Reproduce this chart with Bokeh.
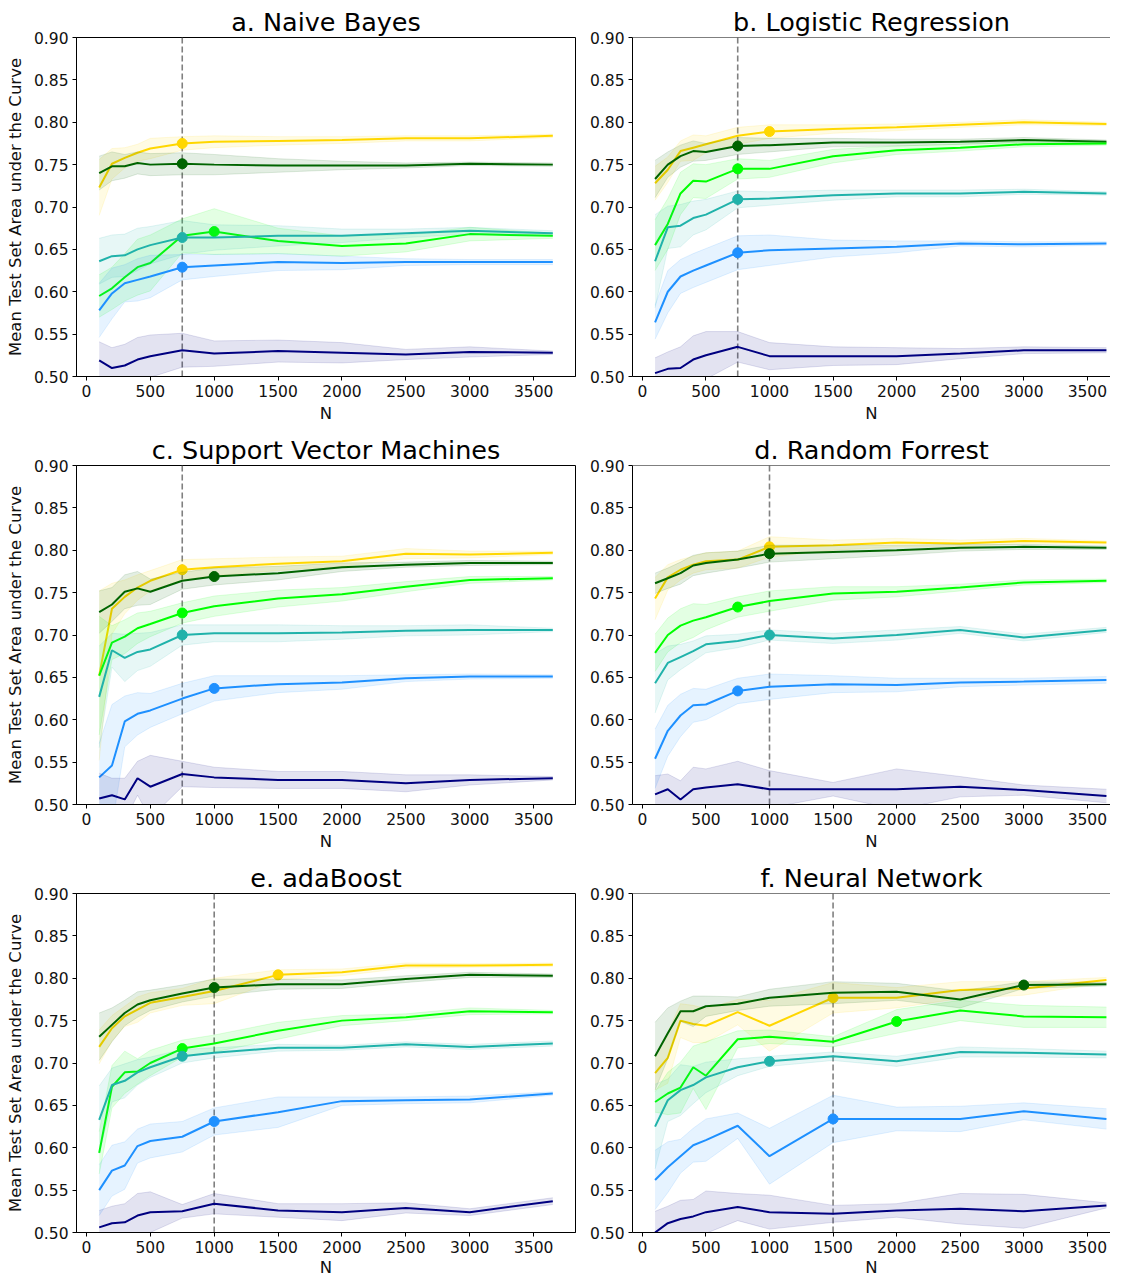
from bokeh.plotting import figure
from bokeh.layouts import column, row
from bokeh.models import Span, FixedTicker, PrintfTickFormatter
from bokeh.embed import file_html
from bokeh.resources import INLINE

# ---------------- data ----------------
N = [100, 200, 300, 400, 500, 750, 1000, 1500, 2000, 2500, 3000, 3650]
X_TICKS = [0, 500, 1000, 1500, 2000, 2500, 3000, 3500]
Y_TICKS = [0.50, 0.55, 0.60, 0.65, 0.70, 0.75, 0.80, 0.85, 0.90]

SERIES = ["gold", "dgreen", "lime", "teal", "blue", "navy"]
COLORS = ["gold", "darkgreen", "lime", "lightseagreen", "dodgerblue", "navy"]

TITLES = ["a. Naive Bayes", "b. Logistic Regression", "c. Support Vector Machines",
          "d. Random Forrest", "e. adaBoost", "f. Neural Network"]
VLINES = [750, 750, 750, 1000, 1000, 1500]

# a. Naive Bayes
a_gold = [0.723, 0.751, 0.758, 0.764, 0.769, 0.775, 0.777, 0.778, 0.779, 0.781, 0.781, 0.784]
a_gold_sd = [0.033, 0.018, 0.012, 0.010, 0.012, 0.008, 0.007, 0.005, 0.004, 0.003, 0.003, 0.002]
a_dgreen = [0.740, 0.748, 0.748, 0.752, 0.750, 0.751, 0.750, 0.749, 0.749, 0.749, 0.751, 0.750]
a_dgreen_sd = [0.020, 0.017, 0.014, 0.013, 0.013, 0.013, 0.012, 0.008, 0.005, 0.003, 0.002, 0.002]
a_lime = [0.595, 0.604, 0.617, 0.629, 0.634, 0.666, 0.671, 0.660, 0.654, 0.657, 0.668, 0.666]
a_lime_sd = [0.025, 0.025, 0.028, 0.033, 0.033, 0.020, 0.027, 0.015, 0.012, 0.010, 0.008, 0.003]
a_teal = [0.636, 0.642, 0.643, 0.650, 0.655, 0.664, 0.664, 0.666, 0.666, 0.669, 0.672, 0.669]
a_teal_sd = [0.027, 0.025, 0.025, 0.025, 0.022, 0.020, 0.015, 0.012, 0.008, 0.005, 0.004, 0.003]
a_blue = [0.578, 0.598, 0.610, 0.614, 0.618, 0.629, 0.631, 0.635, 0.634, 0.635, 0.635, 0.635]
a_blue_sd = [0.032, 0.030, 0.022, 0.025, 0.025, 0.015, 0.013, 0.010, 0.008, 0.004, 0.003, 0.003]
a_navy = [0.519, 0.510, 0.513, 0.520, 0.524, 0.531, 0.527, 0.530, 0.528, 0.526, 0.529, 0.528]
a_navy_sd = [0.022, 0.024, 0.025, 0.026, 0.025, 0.020, 0.015, 0.013, 0.012, 0.006, 0.006, 0.002]
a_marks = [750, 750, 1000, 750, 750, None]

# b. Logistic Regression
b_gold = [0.728, 0.744, 0.766, 0.770, 0.774, 0.784, 0.789, 0.792, 0.794, 0.797, 0.800, 0.798]
b_gold_sd = [0.020, 0.015, 0.012, 0.015, 0.010, 0.010, 0.008, 0.005, 0.004, 0.003, 0.003, 0.002]
b_dgreen = [0.733, 0.750, 0.760, 0.766, 0.765, 0.772, 0.773, 0.776, 0.776, 0.777, 0.779, 0.777]
b_dgreen_sd = [0.022, 0.015, 0.013, 0.012, 0.010, 0.010, 0.008, 0.005, 0.004, 0.003, 0.003, 0.002]
b_lime = [0.655, 0.680, 0.716, 0.731, 0.730, 0.745, 0.745, 0.760, 0.767, 0.770, 0.774, 0.775]
b_lime_sd = [0.030, 0.030, 0.025, 0.020, 0.020, 0.012, 0.010, 0.008, 0.005, 0.004, 0.003, 0.002]
b_teal = [0.636, 0.676, 0.678, 0.687, 0.691, 0.709, 0.710, 0.714, 0.716, 0.716, 0.718, 0.716]
b_teal_sd = [0.055, 0.025, 0.025, 0.020, 0.018, 0.010, 0.008, 0.006, 0.004, 0.004, 0.003, 0.002]
b_blue = [0.564, 0.600, 0.618, 0.625, 0.631, 0.646, 0.649, 0.651, 0.653, 0.657, 0.656, 0.657]
b_blue_sd = [0.020, 0.025, 0.020, 0.020, 0.020, 0.020, 0.018, 0.010, 0.007, 0.003, 0.003, 0.002]
b_navy = [0.504, 0.509, 0.510, 0.520, 0.525, 0.535, 0.524, 0.524, 0.524, 0.527, 0.531, 0.531]
b_navy_sd = [0.018, 0.020, 0.025, 0.028, 0.028, 0.018, 0.016, 0.011, 0.010, 0.006, 0.004, 0.003]
b_marks = [1000, 750, 750, 750, 750, None]

# c. Support Vector Machines
c_gold = [0.652, 0.731, 0.745, 0.756, 0.764, 0.777, 0.780, 0.784, 0.787, 0.796, 0.795, 0.797]
c_gold_sd = [0.100, 0.030, 0.020, 0.015, 0.012, 0.012, 0.010, 0.008, 0.006, 0.006, 0.004, 0.002]
c_dgreen = [0.727, 0.736, 0.751, 0.755, 0.751, 0.764, 0.769, 0.773, 0.780, 0.783, 0.785, 0.785]
c_dgreen_sd = [0.025, 0.020, 0.020, 0.020, 0.015, 0.010, 0.010, 0.008, 0.005, 0.003, 0.003, 0.002]
c_lime = [0.652, 0.691, 0.698, 0.708, 0.713, 0.726, 0.734, 0.743, 0.748, 0.757, 0.765, 0.767]
c_lime_sd = [0.070, 0.020, 0.020, 0.018, 0.015, 0.012, 0.012, 0.010, 0.008, 0.006, 0.004, 0.002]
c_teal = [0.627, 0.682, 0.673, 0.680, 0.683, 0.700, 0.702, 0.702, 0.703, 0.705, 0.706, 0.706]
c_teal_sd = [0.060, 0.020, 0.028, 0.022, 0.020, 0.012, 0.010, 0.010, 0.008, 0.006, 0.006, 0.002]
c_blue = [0.532, 0.546, 0.598, 0.607, 0.611, 0.625, 0.637, 0.642, 0.644, 0.649, 0.651, 0.651]
c_blue_sd = [0.040, 0.072, 0.030, 0.025, 0.020, 0.018, 0.015, 0.010, 0.008, 0.004, 0.003, 0.002]
c_navy = [0.507, 0.511, 0.506, 0.531, 0.521, 0.536, 0.532, 0.529, 0.529, 0.525, 0.529, 0.531]
c_navy_sd = [0.030, 0.020, 0.025, 0.020, 0.037, 0.015, 0.012, 0.010, 0.010, 0.010, 0.006, 0.002]
c_marks = [750, 1000, 750, 750, 1000, None]

# d. Random Forrest
d_gold = [0.743, 0.768, 0.777, 0.783, 0.787, 0.789, 0.804, 0.806, 0.809, 0.808, 0.811, 0.809]
d_gold_sd = [0.025, 0.015, 0.012, 0.010, 0.010, 0.010, 0.012, 0.006, 0.005, 0.004, 0.003, 0.002]
d_dgreen = [0.761, 0.767, 0.773, 0.782, 0.785, 0.789, 0.796, 0.798, 0.800, 0.803, 0.804, 0.803]
d_dgreen_sd = [0.012, 0.012, 0.013, 0.012, 0.012, 0.010, 0.010, 0.008, 0.006, 0.004, 0.003, 0.002]
d_lime = [0.679, 0.700, 0.711, 0.717, 0.721, 0.733, 0.740, 0.749, 0.751, 0.756, 0.762, 0.764]
d_lime_sd = [0.022, 0.020, 0.020, 0.020, 0.015, 0.012, 0.012, 0.008, 0.006, 0.004, 0.003, 0.002]
d_teal = [0.643, 0.667, 0.674, 0.681, 0.689, 0.693, 0.700, 0.696, 0.700, 0.706, 0.697, 0.706]
d_teal_sd = [0.035, 0.020, 0.015, 0.012, 0.010, 0.008, 0.006, 0.006, 0.006, 0.004, 0.004, 0.003]
d_blue = [0.554, 0.587, 0.605, 0.617, 0.618, 0.634, 0.639, 0.642, 0.641, 0.644, 0.645, 0.647]
d_blue_sd = [0.035, 0.030, 0.025, 0.020, 0.018, 0.015, 0.015, 0.010, 0.008, 0.005, 0.004, 0.004]
d_navy = [0.512, 0.518, 0.506, 0.518, 0.520, 0.524, 0.518, 0.518, 0.518, 0.521, 0.517, 0.510]
d_navy_sd = [0.022, 0.018, 0.022, 0.026, 0.022, 0.027, 0.022, 0.008, 0.024, 0.012, 0.006, 0.008]
d_marks = [1000, 1000, 750, 1000, 750, None]

# e. adaBoost
e_gold = [0.719, 0.741, 0.755, 0.763, 0.771, 0.778, 0.785, 0.804, 0.807, 0.815, 0.815, 0.816]
e_gold_sd = [0.020, 0.015, 0.012, 0.015, 0.012, 0.010, 0.015, 0.006, 0.004, 0.003, 0.002, 0.002]
e_dgreen = [0.731, 0.745, 0.759, 0.769, 0.774, 0.782, 0.789, 0.793, 0.793, 0.799, 0.804, 0.803]
e_dgreen_sd = [0.028, 0.020, 0.015, 0.015, 0.012, 0.010, 0.010, 0.006, 0.005, 0.004, 0.003, 0.002]
e_lime = [0.594, 0.672, 0.689, 0.690, 0.700, 0.717, 0.723, 0.738, 0.750, 0.754, 0.761, 0.760]
e_lime_sd = [0.025, 0.025, 0.025, 0.015, 0.015, 0.010, 0.010, 0.010, 0.006, 0.004, 0.004, 0.002]
e_teal = [0.633, 0.674, 0.679, 0.689, 0.695, 0.708, 0.712, 0.718, 0.718, 0.722, 0.719, 0.723]
e_teal_sd = [0.040, 0.020, 0.020, 0.015, 0.012, 0.008, 0.006, 0.004, 0.003, 0.003, 0.003, 0.003]
e_blue = [0.550, 0.573, 0.579, 0.602, 0.608, 0.613, 0.631, 0.642, 0.655, 0.656, 0.657, 0.664]
e_blue_sd = [0.030, 0.030, 0.028, 0.020, 0.020, 0.018, 0.016, 0.018, 0.005, 0.004, 0.004, 0.002]
e_navy = [0.506, 0.511, 0.512, 0.520, 0.524, 0.525, 0.534, 0.526, 0.524, 0.529, 0.524, 0.537]
e_navy_sd = [0.020, 0.020, 0.022, 0.026, 0.024, 0.008, 0.012, 0.008, 0.010, 0.006, 0.004, 0.004]
e_marks = [1500, 1000, 750, 750, 1000, None]

# f. Neural Network
f_gold = [0.688, 0.706, 0.750, 0.746, 0.744, 0.760, 0.744, 0.777, 0.777, 0.786, 0.788, 0.798]
f_gold_sd = [0.020, 0.030, 0.020, 0.022, 0.020, 0.015, 0.030, 0.018, 0.012, 0.010, 0.008, 0.003]
f_dgreen = [0.708, 0.735, 0.761, 0.761, 0.767, 0.770, 0.777, 0.783, 0.784, 0.775, 0.792, 0.793]
f_dgreen_sd = [0.040, 0.030, 0.012, 0.018, 0.012, 0.008, 0.010, 0.013, 0.010, 0.010, 0.004, 0.002]
f_lime = [0.654, 0.664, 0.671, 0.695, 0.685, 0.728, 0.731, 0.725, 0.749, 0.762, 0.755, 0.754]
f_lime_sd = [0.012, 0.025, 0.030, 0.025, 0.040, 0.010, 0.008, 0.006, 0.014, 0.012, 0.013, 0.012]
f_teal = [0.625, 0.656, 0.668, 0.674, 0.683, 0.695, 0.702, 0.708, 0.702, 0.713, 0.712, 0.710]
f_teal_sd = [0.050, 0.025, 0.030, 0.022, 0.018, 0.010, 0.006, 0.005, 0.006, 0.006, 0.005, 0.004]
f_blue = [0.562, 0.577, 0.590, 0.603, 0.609, 0.626, 0.590, 0.634, 0.634, 0.634, 0.643, 0.634]
f_blue_sd = [0.035, 0.030, 0.020, 0.020, 0.025, 0.015, 0.033, 0.028, 0.014, 0.015, 0.010, 0.012]
f_navy = [0.500, 0.511, 0.516, 0.519, 0.524, 0.530, 0.524, 0.522, 0.526, 0.528, 0.525, 0.532]
f_navy_sd = [0.025, 0.020, 0.022, 0.020, 0.025, 0.016, 0.020, 0.010, 0.008, 0.018, 0.020, 0.003]
f_marks = [1500, 3000, 2000, 1000, 1500, None]

PANELS = [
    ([a_gold, a_dgreen, a_lime, a_teal, a_blue, a_navy],
     [a_gold_sd, a_dgreen_sd, a_lime_sd, a_teal_sd, a_blue_sd, a_navy_sd], a_marks),
    ([b_gold, b_dgreen, b_lime, b_teal, b_blue, b_navy],
     [b_gold_sd, b_dgreen_sd, b_lime_sd, b_teal_sd, b_blue_sd, b_navy_sd], b_marks),
    ([c_gold, c_dgreen, c_lime, c_teal, c_blue, c_navy],
     [c_gold_sd, c_dgreen_sd, c_lime_sd, c_teal_sd, c_blue_sd, c_navy_sd], c_marks),
    ([d_gold, d_dgreen, d_lime, d_teal, d_blue, d_navy],
     [d_gold_sd, d_dgreen_sd, d_lime_sd, d_teal_sd, d_blue_sd, d_navy_sd], d_marks),
    ([e_gold, e_dgreen, e_lime, e_teal, e_blue, e_navy],
     [e_gold_sd, e_dgreen_sd, e_lime_sd, e_teal_sd, e_blue_sd, e_navy_sd], e_marks),
    ([f_gold, f_dgreen, f_lime, f_teal, f_blue, f_navy],
     [f_gold_sd, f_dgreen_sd, f_lime_sd, f_teal_sd, f_blue_sd, f_navy_sd], f_marks),
]

FONT = "DejaVu Sans"


def make_panel(i):
    col = i % 2
    rw = i // 2
    left = col == 0
    vals, sds, marks = PANELS[i]
    p = figure(
        frame_width=499 if left else 478,
        frame_height=339,
        x_range=(-77.5, 3827.5) if left else (-77.5, 3682.0),
        y_range=(0.5, 0.9),
        output_backend="svg",
        toolbar_location=None,
        min_border_left=76 if left else 50,
        min_border_right=7 if left else 0,
        min_border_top=37 if rw == 0 else 39,
        min_border_bottom=50 if rw < 2 else 40,
        background_fill_color="white",
        border_fill_color="white",
    )
    p.title.text = TITLES[i]
    p.title.text_font = FONT
    p.title.text_font_size = "25.5px"
    p.title.text_font_style = "normal"
    p.title.text_color = "black"
    p.title.align = "center"
    p.title.standoff = 2
    p.grid.visible = False

    if left:
        p.outline_line_color = "black"
        p.outline_line_alpha = 1.0
        p.outline_line_width = 1
    else:
        p.outline_line_color = None
        p.add_layout(Span(location=0.9, dimension="width", line_color="black", line_width=1))

    p.add_layout(Span(location=VLINES[i], dimension="height", line_color="gray",
                      line_width=1.6, line_dash="6 3", level="underlay"))

    for v, sd, m, c in zip(vals, sds, marks, COLORS):
        lo = [a - b for a, b in zip(v, sd)]
        hi = [a + b for a, b in zip(v, sd)]
        p.varea(x=N, y1=lo, y2=hi, fill_color=c, fill_alpha=0.11)
        p.line(N, lo, line_color=c, line_alpha=0.12, line_width=1)
        p.line(N, hi, line_color=c, line_alpha=0.12, line_width=1)
        p.line(N, v, line_color=c, line_width=2)
        if m is not None:
            k = N.index(m)
            p.scatter([N[k]], [v[k]], size=10, fill_color=c, line_color=c)

    p.xaxis.ticker = FixedTicker(ticks=X_TICKS)
    p.yaxis.ticker = FixedTicker(ticks=Y_TICKS)
    p.yaxis.formatter = PrintfTickFormatter(format="%.2f")
    p.axis.major_tick_out = 4
    p.axis.major_tick_in = 0
    p.axis.minor_tick_out = 0
    p.axis.minor_tick_in = 0
    p.axis.axis_line_color = "black"
    p.axis.major_tick_line_color = "black"
    p.axis.major_label_text_font = FONT
    p.axis.major_label_text_font_size = "15.5px"
    p.axis.major_label_text_color = "#111111"
    p.axis.major_label_standoff = 4
    p.xaxis.axis_label = "N"
    p.axis.axis_label_text_font = FONT
    p.axis.axis_label_text_font_size = "16.5px"
    p.axis.axis_label_text_font_style = "normal"
    p.axis.axis_label_text_color = "#111111"
    p.xaxis.axis_label_standoff = 2 if rw == 2 else 4
    if left:
        p.yaxis.axis_label = "Mean Test Set Area under the Curve"
        p.yaxis.axis_label_standoff = 6
    return p


panels = [make_panel(i) for i in range(6)]
layout = column(row(panels[0], panels[1]), row(panels[2], panels[3]), row(panels[4], panels[5]))

open("out.html", "w").write(file_html(layout, INLINE))
